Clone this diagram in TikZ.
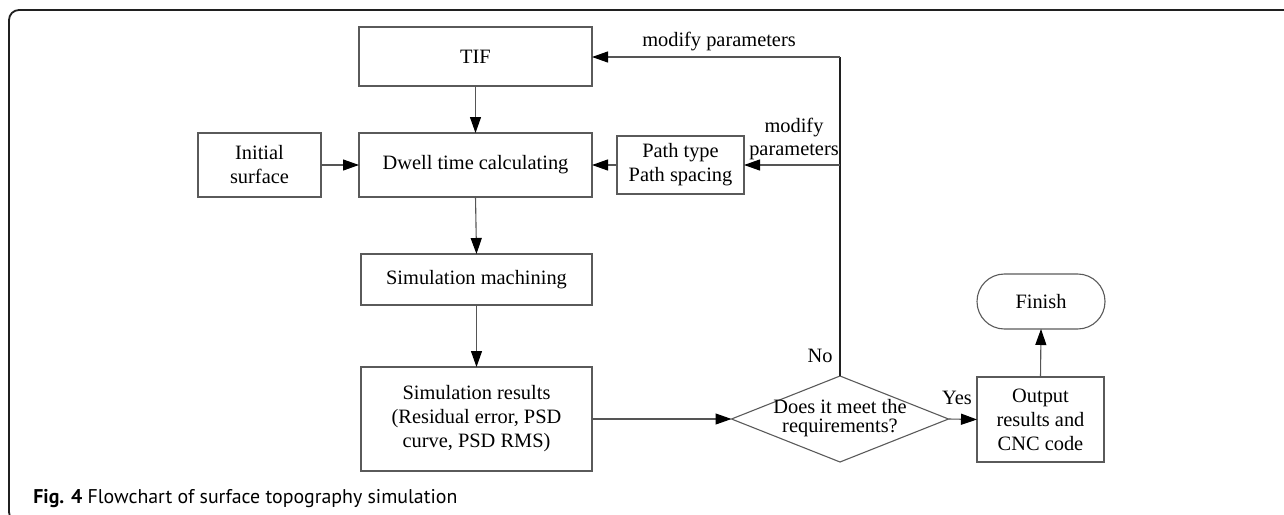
\documentclass[tikz,border=0pt]{standalone}
\usepackage{fontspec}
\setmainfont{Liberation Serif}
\newfontfamily\capfont{PT Sans}
\usetikzlibrary{shapes.geometric,arrows.meta}
\definecolor{boxgray}{HTML}{5A5A5A}
\definecolor{linegray}{HTML}{555555}
\definecolor{framecol}{HTML}{202020}
\begin{document}
\begin{tikzpicture}[x=0.5pt,y=-0.5pt,
  box/.style={draw=boxgray,line width=0.55pt,inner sep=0pt,outer sep=0pt,align=center,
    font=\fontsize{10.2}{12}\selectfont},
  lbl/.style={inner sep=0pt,outer sep=0pt,align=center,font=\fontsize{10.2}{11.5}\selectfont},
  conn/.style={draw=linegray,line width=0.55pt,-{Triangle[length=8pt,width=5.5pt,color=black]}},
  plain/.style={draw=framecol,line width=0.8pt}]
\useasboundingbox (0,0) rectangle (1284,514);
\begin{scope}
\clip (0,0) rectangle (1284,514);
\draw[framecol,line width=0.9pt,rounded corners=5pt] (9,10) rectangle (1300,522);
\end{scope}
% nodes
\node[box,minimum width=116.5pt,minimum height=29.5pt] (tif) at (475.5,56.5) {TIF};
\node[box,minimum width=116.5pt,minimum height=32pt] (dwell) at (475.5,165) {Dwell time calculating};
\node[box,minimum width=61.5pt,minimum height=32pt] (init) at (259.5,165) {Initial\\surface};
\node[box,minimum width=63.5pt,minimum height=29pt] (path) at (680.5,165) {Path type\\Path spacing};
\node[box,minimum width=115.5pt,minimum height=25.5pt] (sim) at (476.5,279.5) {Simulation machining};
\node[box,minimum width=115.5pt,minimum height=52pt] (res) at (476.5,419) {Simulation results\\(Residual error, PSD\\curve, PSD RMS)};
\node[draw=boxgray,line width=0.55pt,shape=diamond,inner sep=0pt,outer sep=0pt,
  minimum width=108.5pt,minimum height=43pt,
  label={[lbl,font=\fontsize{10.2}{9.5}\selectfont,yshift=0.5pt]center:Does it meet the\\requirements?}] (dec) at (840,419) {};
\node[box,minimum width=63.5pt,minimum height=42.5pt] (out) at (1040.5,419.5) {Output\\results and\\CNC code};
\node[box,rounded corners=13.7pt,minimum width=64pt,minimum height=27.5pt] (fin) at (1041,301.5) {Finish};
% connectors
\draw[conn] (tif.south) -- (dwell.north);
\draw[conn] (init.east) -- (dwell.west);
\draw[conn] (path.west) -- (dwell.east);
\draw[conn] (dwell.south) -- (sim.north);
\draw[conn] (sim.south) -- (res.north);
\draw[conn] (res.east) -- (dec.west);
\draw[conn] (dec.east) -- (out.west);
\draw[conn] (out.north) -- (fin.south);
\coordinate (c1) at (840,57);
\coordinate (c2) at (840,165);
\draw[plain] (dec.north) -- (c1);
\draw[conn] (c1) -- (tif.east |- c1);
\draw[conn] (c2) -- (path.east);
% labels
\node[lbl] (lmod1) at (719,42) {modify parameters};
\node[lbl] (lmod2) at (794,139) {modify\\parameters};
\node[lbl] (lno) at (820,356) {No};
\node[lbl] (lyes) at (957,398) {Yes};
\node[anchor=base west,inner sep=0pt] (cap) at (33,503) {\resizebox{212pt}{!}{\capfont\textbf{Fig. 4} Flowchart of surface topography simulation}};
\end{tikzpicture}
\end{document}
